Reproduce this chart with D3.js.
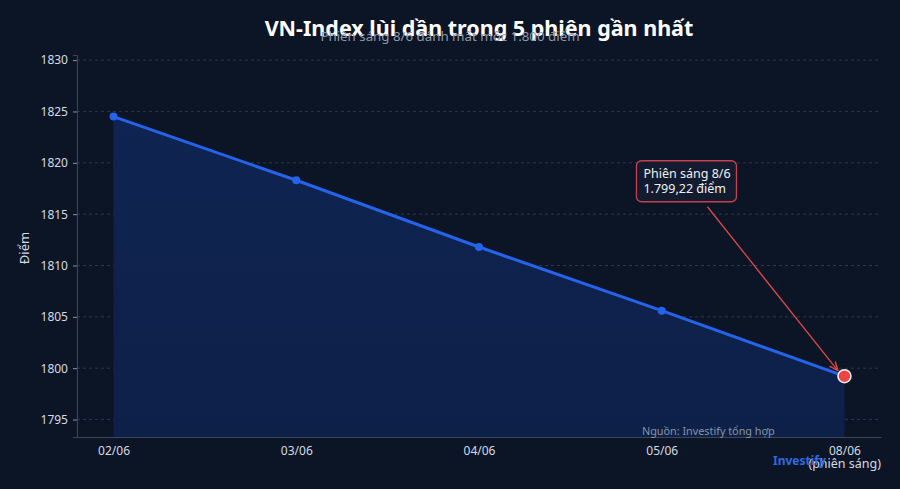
<!DOCTYPE html>
<html>
<head>
<meta charset="utf-8">
<script src="https://cdn.jsdelivr.net/npm/d3@7"></script>
<style>
  body { margin: 0; background: #0c1526; }
  svg { display: block; font-family: "Noto Sans", sans-serif; }
</style>
</head>
<body>
<div id="chart"></div>
<script>
  // Données
  var dates = ["02/06", "03/06", "04/06", "05/06", "08/06"];
  var values = [1824.5, 1818.3, 1811.8, 1805.6, 1799.22];
  var yTicks = [1795, 1800, 1805, 1810, 1815, 1820, 1825, 1830];
  var data = dates.map((d, i) => ({ date: d, value: values[i] }));

  var W = 900, H = 489;
  var margin = { top: 55, right: 19, bottom: 52, left: 77 };
  var width = W - margin.left - margin.right;
  var height = H - margin.top - margin.bottom;

  var svg = d3.select("#chart").append("svg")
    .attr("width", W).attr("height", H);
  svg.append("rect").attr("width", W).attr("height", H).attr("fill", "#0c1526");

  var defs = svg.append("defs");
  var grad = defs.append("linearGradient").attr("id", "area").attr("x1", 0).attr("y1", 0).attr("x2", 0).attr("y2", 1);
  grad.append("stop").attr("offset", "0%").attr("stop-color", "#0f2452");
  grad.append("stop").attr("offset", "100%").attr("stop-color", "#0d2048");

  var g = svg.append("g").attr("transform", `translate(${margin.left},${margin.top})`);

  var x = d3.scalePoint().domain(dates).range([0, width]).padding(0.2);
  var y = d3.scaleLinear().domain([1793.3, 1830.5]).range([height, 0]);

  // grille
  g.append("g").selectAll("line").data(yTicks).enter().append("line")
    .attr("x1", 0).attr("x2", width)
    .attr("y1", d => y(d)).attr("y2", d => y(d))
    .attr("stroke", "#3a4658").attr("stroke-width", 0.7)
    .attr("stroke-dasharray", "3,3");

  // aire
  g.append("path").datum(data)
    .attr("fill", "url(#area)")
    .attr("d", d3.area().x(d => x(d.date)).y0(height).y1(d => y(d.value)));

  // axes
  var yAxis = g.append("g").call(d3.axisLeft(y).tickValues(yTicks).tickFormat(d3.format("d")).tickSize(4).tickPadding(5));
  var xAxis = g.append("g").attr("transform", `translate(0,${height})`)
    .call(d3.axisBottom(x).tickSize(0).tickPadding(9));
  [yAxis, xAxis].forEach(a => {
    a.select(".domain").attr("stroke", "#3d4656");
    a.selectAll(".tick line").attr("stroke", "#8a94a6");
    a.selectAll("text").attr("fill", "#d5dae2").style("font-size", "12px").style("font-family", "Noto Sans");
  });

  // ligne
  g.append("path").datum(data)
    .attr("fill", "none").attr("stroke", "#2563eb").attr("stroke-width", 3)
    .attr("d", d3.line().x(d => x(d.date)).y(d => y(d.value)));

  g.append("g").selectAll("circle").data(data.slice(0, -1)).enter().append("circle")
    .attr("cx", d => x(d.date)).attr("cy", d => y(d.value)).attr("r", 4)
    .attr("fill", "#2563eb");

  var last = data[data.length - 1];

  // annotation
  defs.append("marker").attr("id", "arrow").attr("viewBox", "0 0 10 10")
    .attr("refX", 9).attr("refY", 5).attr("markerWidth", 7).attr("markerHeight", 7)
    .attr("orient", "auto-start-reverse")
    .append("path").attr("d", "M0,1 L10,5 L0,9").attr("fill", "none").attr("stroke", "#e04848").attr("stroke-width", 1.5);

  var boxX = x("08/06") - 208, boxY = y(1820.2);
  g.append("line")
    .attr("x1", boxX + 71).attr("y1", boxY + 46)
    .attr("x2", x(last.date) - 7).attr("y2", y(last.value) - 6)
    .attr("stroke", "#e04848").attr("stroke-width", 1.3)
    .attr("marker-end", "url(#arrow)");

  g.append("rect").attr("x", boxX).attr("y", boxY).attr("width", 100).attr("height", 41)
    .attr("rx", 5).attr("fill", "#131c2e").attr("stroke", "#c8404f").attr("stroke-width", 1.3);
  var ann = g.append("text").attr("fill", "#eef1f5").style("font-size", "12.5px");
  ann.append("tspan").attr("x", boxX + 7).attr("y", boxY + 17).text("Phiên sáng 8/6");
  ann.append("tspan").attr("x", boxX + 7).attr("y", boxY + 32).text("1.799,22 điểm");

  g.append("circle").attr("cx", x(last.date)).attr("cy", y(last.value)).attr("r", 6.5)
    .attr("fill", "#ef4444").attr("stroke", "#f3f4f6").attr("stroke-width", 1.5);

  // titres
  svg.append("text").attr("x", 479).attr("y", 36).attr("text-anchor", "middle")
    .attr("fill", "#ffffff").style("font-size", "21.5px").style("font-weight", "bold")
    .text("VN-Index lùi dần trong 5 phiên gần nhất");
  svg.append("text").attr("x", 450).attr("y", 41).attr("text-anchor", "middle")
    .attr("fill", "#8f98a8").style("font-size", "13.3px")
    .text("Phiên sáng 8/6 đánh mất mốc 1.800 điểm");

  svg.append("text").attr("transform", "translate(29,248) rotate(-90)").attr("text-anchor", "middle")
    .attr("fill", "#d5dae2").style("font-size", "13px").text("Điểm");
  svg.append("text").attr("x", 881).attr("y", 468).attr("text-anchor", "end")
    .attr("fill", "#d5dae2").style("font-size", "12.5px").text("(phiên sáng)");

  svg.append("text").attr("x", 642).attr("y", 435)
    .attr("fill", "#8a93a3").style("font-size", "10.8px").text("Nguồn: Investify tổng hợp");
  svg.append("text").attr("x", 773).attr("y", 465)
    .attr("fill", "#2f6be0").style("font-size", "12px").style("font-weight", "bold").text("Investify");
</script>
</body>
</html>
